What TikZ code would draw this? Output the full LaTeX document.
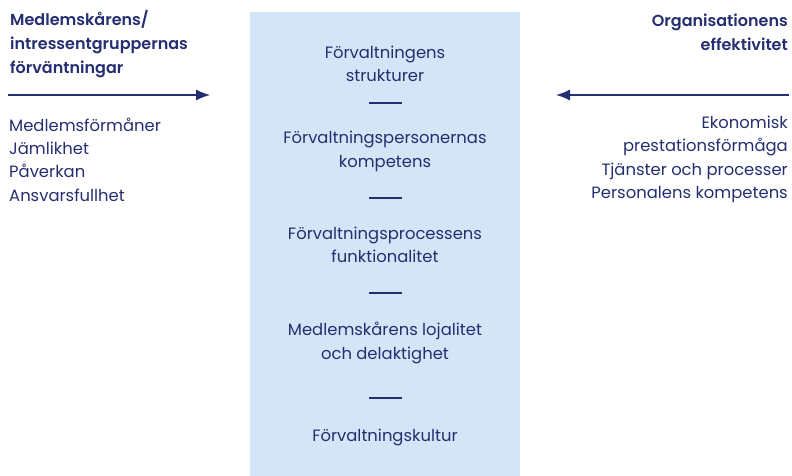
\documentclass[tikz,border=0pt]{standalone}
\usepackage{fontspec}
\setmainfont{Poppins}[BoldFont={Poppins SemiBold}]
\usetikzlibrary{arrows.meta,positioning,calc}
\definecolor{navy}{RGB}{37,46,112}
\definecolor{paleblue}{RGB}{211,229,246}

\begin{document}
\begin{tikzpicture}[x=1pt, y=-1pt, >={Latex[length=14pt,width=11pt]},
    txt/.style={text=navy, inner sep=0pt, font=\fontsize{16.4}{23.3}\selectfont},
    head/.style={txt, font=\fontsize{16}{24}\selectfont\bfseries},
    mid/.style={txt, align=center},
    sep/.style={draw=navy, line width=1.3pt},
    flow/.style={->, draw=navy, line width=1.2pt}]
\useasboundingbox (0,0) rectangle (792,476);
\fill[paleblue] (250,12) rectangle (520,476);

% left side
\node[head, align=left, anchor=west]  (leftHead) at (10,44)  {Medlemskårens/\\intressentgruppernas\\förväntningar};
\node[txt, align=left, anchor=west]   (leftList) at (9,159.5) {Medlemsförmåner\\Jämlikhet\\Påverkan\\Ansvarsfullhet};

% right side
\node[head, align=right, anchor=east] (rightHead) at (788,32.5) {Organisationens\\effektivitet};
\node[txt, align=right, anchor=east]  (rightList) at (788,159.5) {Ekonomisk\\prestationsförmåga\\Tjänster och processer\\Personalens kompetens};

% middle column
\node[mid] (struct) at (385,63.5)  {Förvaltningens\\strukturer};
\node[mid] (pers)   at (385,151.5) {Förvaltningspersonernas\\kompetens};
\node[mid] (proc)   at (385,245)   {Förvaltningsprocessens\\funktionalitet};
\node[mid] (loyal)  at (385,343)   {Medlemskårens lojalitet\\och delaktighet};
\node[mid] (cult)   at (385,437)   {Förvaltningskultur};

\foreach \y in {103,198,293,398}
  \draw[sep] (369,\y) -- (402,\y);

% arrows
\coordinate (inStart)  at (8,95);
\coordinate (inEnd)    at (210,95);
\coordinate (outStart) at (789,95);
\coordinate (outEnd)   at (556,95);
\draw[flow] (inStart) -- (inEnd);
\draw[flow] (outStart) -- (outEnd);
\end{tikzpicture}
\end{document}
